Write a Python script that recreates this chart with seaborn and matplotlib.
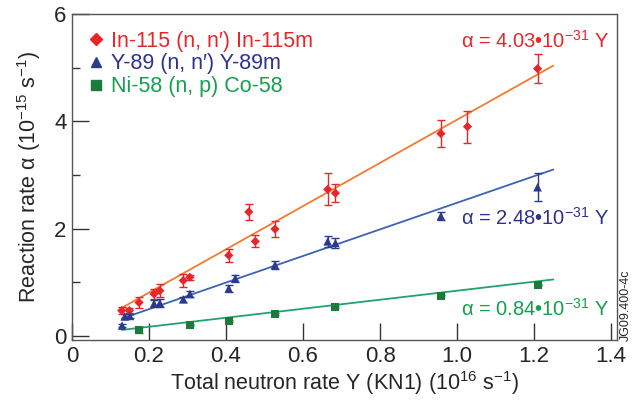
import numpy as np
import pandas as pd
import matplotlib
matplotlib.use('Agg')
import matplotlib.pyplot as plt
import seaborn as sns

sns.set_style('ticks')
plt.rcParams['font.family'] = ['Liberation Sans', 'DejaVu Sans']
plt.rcParams['mathtext.fontset'] = 'custom'
plt.rcParams['mathtext.rm'] = 'Liberation Sans'
plt.rcParams['mathtext.it'] = 'Liberation Sans:italic'

# In-115 (n, n') In-115m
in_x = [0.129, 0.149, 0.174, 0.213, 0.228, 0.289, 0.306, 0.407, 0.459, 0.476, 0.527, 0.664, 0.684, 0.958, 1.027, 1.209]
in_y = [0.47, 0.47, 0.62, 0.78, 0.84, 1.03, 1.09, 1.50, 2.31, 1.76, 1.99, 2.73, 2.66, 3.77, 3.90, 4.98]
in_err = [0.065, 0.04, 0.10, 0.10, 0.12, 0.12, 0.05, 0.12, 0.155, 0.11, 0.15, 0.30, 0.17, 0.25, 0.30, 0.27]

# Y-89 (n, n') Y-89m
y_x = [0.130, 0.137, 0.150, 0.213, 0.228, 0.289, 0.306, 0.407, 0.424, 0.527, 0.664, 0.684, 0.958, 1.209]
y_y = [0.19, 0.36, 0.37, 0.60, 0.61, 0.68, 0.78, 0.88, 1.07, 1.32, 1.76, 1.73, 2.23, 2.77]
y_err = [0.03, 0.04, 0.04, 0.07, 0.08, 0.05, 0.05, 0.06, 0.06, 0.08, 0.10, 0.09, 0.08, 0.26]

# Ni-58 (n, p) Co-58
ni_x = [0.174, 0.306, 0.407, 0.527, 0.684, 0.958, 1.209]
ni_y = [0.11, 0.20, 0.27, 0.40, 0.53, 0.74, 0.95]
ni_err = [0.05, 0.02, 0.02, 0.02, 0.02, 0.02, 0.02]

# fitted slopes (alpha = k * 1e-31 Y)
slopes = [4.03, 2.48, 0.84]
fit_range = [0.13, 1.25]

labels = ["In-115 (n, n\u2032) In-115m", "Y-89 (n, n\u2032) Y-89m", "Ni-58 (n, p) Co-58"]
marker_colors = ['#e8262a', '#2b3a8f', '#1b7a3c']
text_colors = ['#e8262a', '#2e3192', '#14a04c']
line_colors = ['#f47a30', '#3b64b4', '#22a36b']
markers = ['D', '^', 's']
sizes = [22, 38, 34]

series = [(in_x, in_y, in_err), (y_x, y_y, y_err), (ni_x, ni_y, ni_err)]

fig = plt.figure(figsize=(6.34, 4.01), dpi=100)
ax = fig.add_axes([0.1136, 0.152, 0.973 - 0.1136, 0.965 - 0.152])

handles = []
for i, (xs, ys, es) in enumerate(series):
    fit = pd.DataFrame({'x': fit_range, 'y': [slopes[i] * v for v in fit_range]})
    sns.lineplot(data=fit, x='x', y='y', ax=ax, color=line_colors[i], lw=1.3, zorder=2)
    ax.errorbar(xs, ys, yerr=es, fmt='none', ecolor=marker_colors[i], elinewidth=1,
                capsize=3, capthick=1, zorder=3)
    df = pd.DataFrame({'x': xs, 'y': ys})
    sns.scatterplot(data=df, x='x', y='y', ax=ax, marker=markers[i], s=sizes[i],
                    color=marker_colors[i], edgecolor='none', zorder=4)
    handles.append(plt.Line2D([], [], ls='none', marker=markers[i], color=marker_colors[i],
                              markersize=6.5))

leg = ax.legend(handles, labels, loc='upper left', frameon=False, fontsize=15.5,
                handlelength=0.8, handletextpad=0.3, labelspacing=0.08,
                borderaxespad=0.3, bbox_to_anchor=(0.0, 0.995))
for t, c in zip(leg.get_texts(), text_colors):
    t.set_color(c)

ann_y = [5.5, 2.2, 0.5]
for k, yy, c in zip(slopes, ann_y, text_colors):
    ax.text(1.395, yy, '\u03b1 = %.2f\u202210$^{-31}$ Y' % k, color=c, fontsize=14.5,
            ha='right', va='center')

ax.set_xlim(0, 1.415)
ax.set_ylim(-0.08, 6)
ax.set_xticks([0, 0.2, 0.4, 0.6, 0.8, 1.0, 1.2, 1.4])
ax.set_xticklabels(['0', '0.2', '0.4', '0.6', '0.8', '1.0', '1.2', '1.4'])
ax.set_yticks([0, 2, 4, 6])
ax.set_yticks([1, 3, 5], minor=True)
ax.tick_params(axis='both', which='major', direction='in', length=12, width=1,
               labelsize=16, color='#333333', pad=4)
ax.tick_params(axis='y', which='minor', direction='in', length=6, width=1, color='#333333')
ax.tick_params(axis='x', which='major', top=False)
for s in ax.spines.values():
    s.set_visible(True)
    s.set_color('#555555')
    s.set_linewidth(1)

ax.set_xlabel('Total neutron rate Y (KN1) (10$^{16}$ s$^{-1}$)', fontsize=15.5, labelpad=2)
ax.set_ylabel('Reaction rate \u03b1 (10$^{-15}$ s$^{-1}$)', fontsize=15.5, labelpad=8)

fig.text(626 / 634, 1 - 341 / 401, 'JG09.400-4c', rotation=90, fontsize=9,
         ha='center', va='bottom')

fig.savefig('out.png', dpi=100)
